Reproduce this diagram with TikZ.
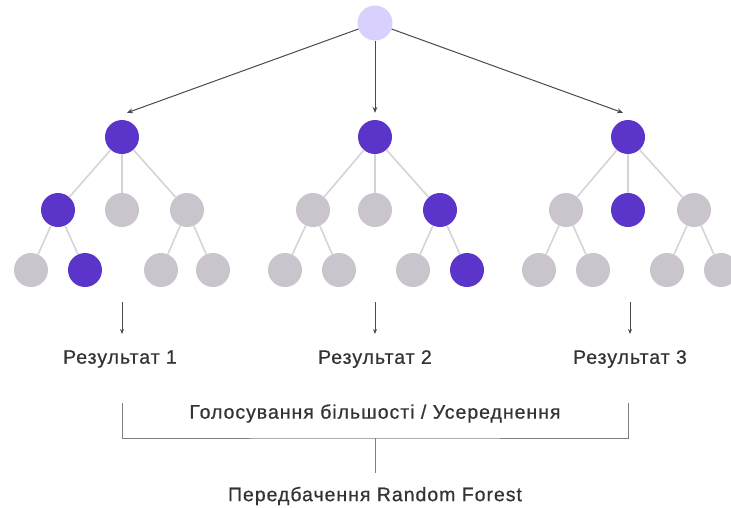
\documentclass[tikz,border=0pt]{standalone}
\usepackage{fontspec}
\setmainfont{Liberation Sans}[LetterSpace=5, FakeBold=0.6]
\usetikzlibrary{arrows.meta}
\definecolor{leafgray}{HTML}{CAC4CD}
\definecolor{hotpurple}{HTML}{5B35C9}
\definecolor{rootlav}{HTML}{D9D1FB}
\definecolor{edgegray}{HTML}{D6D3D8}
\definecolor{inkgray}{HTML}{4A4A4A}
\definecolor{textgray}{HTML}{333333}
\tikzset{
  dot/.style={circle, minimum size=34pt, inner sep=0pt},
  off/.style={dot, fill=leafgray},
  on/.style={dot, fill=hotpurple},
  seed/.style={dot, fill=rootlav, minimum size=35pt},
  branch/.style={draw=edgegray, line width=1.6pt},
  feed/.style={draw=inkgray, line width=1pt, -{Stealth[length=6pt,width=5pt]}},
  label/.style={text=textgray, font=\fontsize{19.5}{23}\selectfont, inner sep=0pt},
  bracket/.style={draw=inkgray!70, line width=1pt}
}
\begin{document}
\begin{tikzpicture}[x=1pt,y=-1pt]
\useasboundingbox (0,0) rectangle (731,507);

% shared root
\node[seed] (top) at (375,23) {};

% tree 1
\node[on]  (a)   at (122,137) {};
\node[on]  (a1)  at (58,210) {};
\node[off] (a2)  at (122,210) {};
\node[off] (a3)  at (187,210) {};
\node[off] (a11) at (31,270) {};
\node[on]  (a12) at (85,270) {};
\node[off] (a31) at (161,270) {};
\node[off] (a32) at (213,270) {};

% tree 2
\node[on]  (b)   at (375,137) {};
\node[off] (b1)  at (313,210) {};
\node[off] (b2)  at (375,210) {};
\node[on]  (b3)  at (440,210) {};
\node[off] (b11) at (285,270) {};
\node[off] (b12) at (339,270) {};
\node[off] (b31) at (413,270) {};
\node[on]  (b32) at (467,270) {};

% tree 3
\node[on]  (c)   at (628,137) {};
\node[off] (c1)  at (566,210) {};
\node[on]  (c2)  at (628,210) {};
\node[off] (c3)  at (694,210) {};
\node[off] (c11) at (539,270) {};
\node[off] (c12) at (593,270) {};
\node[off] (c31) at (667,270) {};
\node[off] (c32) at (721,270) {};

% branches
\foreach \p/\q in {a/a1,a/a2,a/a3,a1/a11,a1/a12,a3/a31,a3/a32,
                   b/b1,b/b2,b/b3,b1/b11,b1/b12,b3/b31,b3/b32,
                   c/c1,c/c2,c/c3,c1/c11,c1/c12,c3/c31,c3/c32}
  \draw[branch] (\p) -- (\q);

% bootstrap arrows
\draw[feed] (top) -- ([shift={(5pt,7pt)}]a.north);
\draw[feed] (top) -- ([yshift=7pt]b.north);
\draw[feed] (top) -- ([shift={(-5pt,7pt)}]c.north);

% results
\node[label] (r1) at (120,359) {Результат 1};
\node[label] (r2) at (375,359) {Результат 2};
\node[label] (r3) at (630,359) {Результат 3};
\coordinate (s1) at (122,302);
\coordinate (s2) at (375,302);
\coordinate (s3) at (630,302);
\foreach \i in {1,2,3}
  \draw[feed, -{Stealth[length=5pt,width=4pt]}] (s\i) -- ([yshift=16pt]s\i |- r\i.north);

% aggregation bracket
\node[label] (vote) at (375,413.5) {Голосування більшості / Усереднення};
\coordinate (bl) at (122,403);
\coordinate (br) at (628,403);
\coordinate (mid) at (375,438);
\draw[bracket] (bl) |- (mid) -| (br);
\node[label] (final) at (375,496) {Передбачення Random Forest};
\draw[bracket] (mid) -- ([yshift=14pt]final.north);
\end{tikzpicture}
\end{document}
